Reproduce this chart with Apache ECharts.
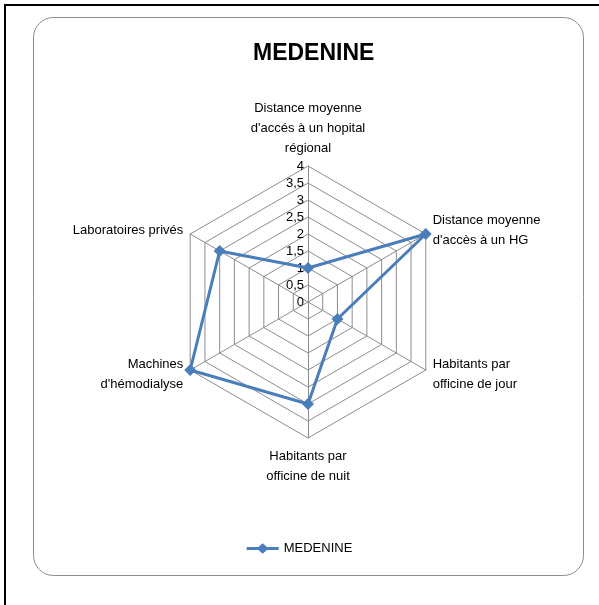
<!DOCTYPE html>
<html>
<head>
<meta charset="utf-8">
<script src="https://cdn.jsdelivr.net/npm/echarts@6/dist/echarts.min.js"></script>
<style>
  html, body { margin: 0; padding: 0; background: #fff; }
  #main { width: 599px; height: 605px; }
</style>
</head>
<body>
<div id="main"></div>
<script>
// indicators in clockwise order as in the original chart
const indicators = [
  "Distance moyenne\nd'accés à un hopital\nrégional",
  "Distance moyenne\nd'accès à un HG",
  "Habitants par\nofficine de jour",
  "Habitants par\nofficine de nuit",
  "Machines\nd'hémodialyse",
  "Laboratoires privés"
];
const values = [1, 4, 1, 3, 4, 3];
const seriesName = 'MEDENINE';
const axisMax = 4;

const font = "'Liberation Sans', Arial, sans-serif";

// echarts radar goes counter-clockwise, so keep the first one and reverse the rest
const order = [0, 5, 4, 3, 2, 1];

// legend marker: line with a diamond in the middle
const lineDiamond = 'path://M0,3.6 L11,3.6 L15,0 L19,3.6 L30,3.6 L30,6.4 L19,6.4 L15,10 L11,6.4 L0,6.4 Z';

const chartDom = document.getElementById('main');
const myChart = echarts.init(chartDom);

const options = {
  animation: false,
  title: {
    text: 'MEDENINE',
    left: 248,
    top: 37,
    textStyle: { fontFamily: font, fontSize: 23, fontWeight: 'bold', color: '#000' }
  },
  legend: {
    bottom: 45,
    left: 'center',
    itemWidth: 32,
    itemHeight: 11,
    itemGap: 4,
    textStyle: { fontFamily: font, fontSize: 13, color: '#000' },
    data: [{ name: seriesName, icon: lineDiamond }]
  },
  graphic: [
    {
      type: 'rect',
      shape: { x: 5, y: 5, width: 620, height: 640 },
      style: { fill: '#fff', stroke: '#000', lineWidth: 2 },
      z: -10
    },
    {
      type: 'rect',
      shape: { x: 33.5, y: 17.5, width: 550, height: 558, r: 20 },
      style: { fill: 'none', stroke: '#8c8c8c', lineWidth: 1 },
      z: -9
    }
  ],
  radar: {
    center: [308, 302],
    radius: 136,
    startAngle: 90,
    splitNumber: 8,
    shape: 'polygon',
    nameGap: 8,
    axisName: {
      color: '#000',
      fontFamily: font,
      fontSize: 13,
      lineHeight: 20
    },
    axisLine: { lineStyle: { color: '#8c8c8c', width: 1 } },
    splitLine: { lineStyle: { color: '#8c8c8c', width: 1 } },
    splitArea: { show: false },
    axisLabel: { show: false },
    indicator: order.map((i, k) => {
      const ind = { name: indicators[i], min: 0, max: axisMax };
      if (k === 0) {
        ind.axisLabel = {
          show: true,
          color: '#000',
          fontFamily: font,
          fontSize: 13,
          margin: 4,
          formatter: v => String(v).replace('.', ',')
        };
      }
      return ind;
    })
  },
  series: [
    {
      name: seriesName,
      type: 'radar',
      symbol: 'diamond',
      symbolSize: 12,
      itemStyle: { color: '#4a7ebb' },
      lineStyle: { color: '#4a7ebb', width: 3 },
      data: [
        { name: seriesName, value: order.map(i => values[i]) }
      ]
    }
  ]
};

myChart.setOption(options);
</script>
</body>
</html>
